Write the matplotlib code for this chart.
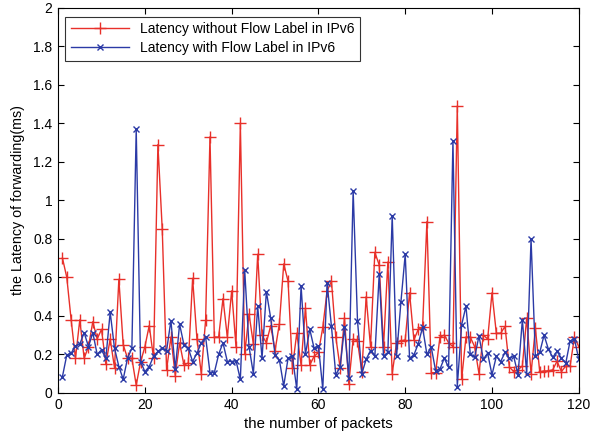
import matplotlib
matplotlib.use("Agg")
import matplotlib.pyplot as plt
import numpy as np

plt.rcParams['font.family'] = ['Liberation Sans', 'DejaVu Sans']

packets = list(range(1, 121))

latency_without = [
    0.70, 0.60, 0.38, 0.18, 0.38, 0.18, 0.24, 0.37, 0.28, 0.33,
    0.15, 0.28, 0.13, 0.59, 0.25, 0.18, 0.18, 0.04, 0.16, 0.24,
    0.35, 0.18, 1.29, 0.85, 0.12, 0.29, 0.09, 0.26, 0.145, 0.155,
    0.595, 0.28, 0.10, 0.38, 1.33, 0.29, 0.29, 0.49, 0.29, 0.53,
    0.24, 1.40, 0.20, 0.41, 0.255, 0.72, 0.30, 0.26, 0.35, 0.22,
    0.36, 0.67, 0.58, 0.13, 0.31, 0.145, 0.44, 0.145, 0.19, 0.21,
    0.34, 0.53, 0.58, 0.29, 0.13, 0.39, 0.047, 0.28, 0.27, 0.11,
    0.50, 0.24, 0.73, 0.665, 0.24, 0.68, 0.10, 0.26, 0.27, 0.275,
    0.52, 0.275, 0.33, 0.34, 0.89, 0.105, 0.105, 0.29, 0.30, 0.26,
    0.24, 1.49, 0.07, 0.29, 0.29, 0.24, 0.10, 0.30, 0.28, 0.52,
    0.31, 0.31, 0.345, 0.135, 0.11, 0.12, 0.14, 0.39, 0.10, 0.336,
    0.11, 0.114, 0.114, 0.12, 0.165, 0.11, 0.14, 0.14, 0.29, 0.24,
]

latency_with = [
    0.085, 0.197, 0.206, 0.244, 0.253, 0.313, 0.24, 0.313, 0.20, 0.223,
    0.18, 0.419, 0.232, 0.137, 0.071, 0.18, 0.232, 1.37, 0.163, 0.11,
    0.137, 0.19, 0.215, 0.232, 0.22, 0.376, 0.123, 0.357, 0.25, 0.232,
    0.163, 0.206, 0.26, 0.29, 0.105, 0.105, 0.20, 0.26, 0.163, 0.163,
    0.168, 0.07, 0.64, 0.24, 0.10, 0.45, 0.18, 0.526, 0.388, 0.197,
    0.171, 0.036, 0.18, 0.19, 0.02, 0.556, 0.20, 0.33, 0.232, 0.244,
    0.02, 0.57, 0.345, 0.094, 0.133, 0.34, 0.076, 1.05, 0.376, 0.10,
    0.175, 0.22, 0.19, 0.616, 0.192, 0.21, 0.92, 0.19, 0.47, 0.72,
    0.18, 0.197, 0.255, 0.34, 0.20, 0.237, 0.116, 0.123, 0.18, 0.133,
    1.31, 0.033, 0.353, 0.45, 0.20, 0.185, 0.296, 0.175, 0.206, 0.094,
    0.19, 0.163, 0.21, 0.18, 0.19, 0.094, 0.38, 0.10, 0.80, 0.19,
    0.21, 0.30, 0.227, 0.185, 0.215, 0.18, 0.154, 0.27, 0.28, 0.175,
]

x_ticks = [0, 20, 40, 60, 80, 100, 120]
y_ticks = [0, 0.2, 0.4, 0.6, 0.8, 1.0, 1.2, 1.4, 1.6, 1.8, 2.0]
y_tick_labels = ["0", "0.2", "0.4", "0.6", "0.8", "1", "1.2", "1.4", "1.6", "1.8", "2"]

fig = plt.figure(figsize=(5.93, 4.38), dpi=100)
ax = fig.add_axes([0.098, 0.103, 0.878, 0.879])

red = '#e8302a'
blue = '#2b3aa6'
ax.plot(packets, latency_without, color=red, marker='+', markersize=8,
        markeredgewidth=1.0, linewidth=1.0, label='Latency without Flow Label in IPv6')
ax.plot(packets, latency_with, color=blue, marker='x', markersize=4.5,
        markeredgewidth=1.0, linewidth=1.0, label='Latency with Flow Label in IPv6')

ax.set_xlim(0, 120)
ax.set_ylim(0, 2)
ax.set_xticks(x_ticks)
ax.set_yticks(y_ticks)
ax.set_yticklabels(y_tick_labels)
ax.tick_params(direction='in', top=True, right=True, labelsize=10, length=4, width=0.8, pad=4)
for s in ax.spines.values():
    s.set_linewidth(0.8)

ax.set_xlabel('the number of packets', fontsize=10.8, labelpad=3)
ax.set_ylabel('the Latency of forwarding(ms)', fontsize=10.3, labelpad=6)

leg = ax.legend(loc='upper left', fontsize=10, frameon=True, fancybox=False,
                edgecolor='black', handlelength=4.2, borderpad=0.4,
                labelspacing=0.35, bbox_to_anchor=(0.0, 0.995))
leg.get_frame().set_linewidth(0.8)

fig.savefig('out.png', dpi=100)
